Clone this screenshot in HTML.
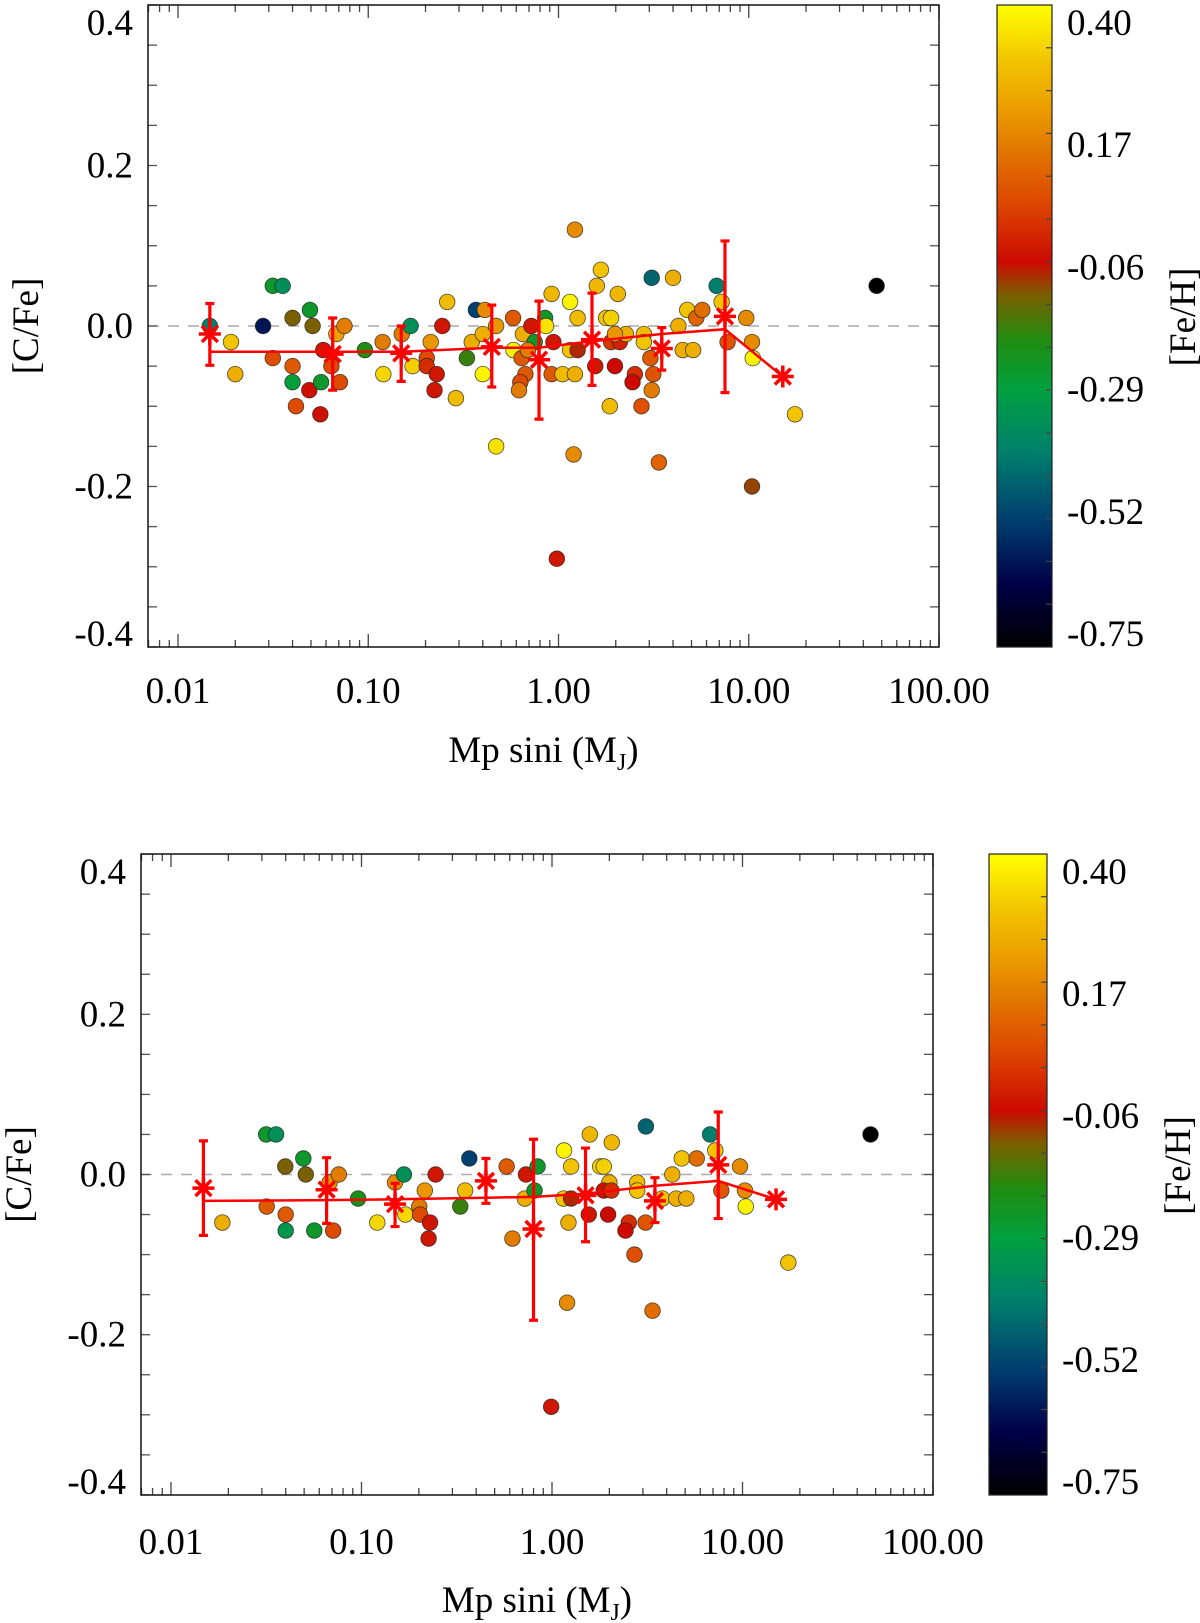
<!DOCTYPE html>
<html><head><meta charset="utf-8"><style>
html,body{margin:0;padding:0;background:#fff}
svg{display:block}
text{font-family:"Liberation Serif",serif;fill:#000}
</style></head><body>
<svg id="fig" width="1200" height="1623" viewBox="0 0 1200 1623" xmlns="http://www.w3.org/2000/svg">
<defs>
<linearGradient id="cbar" x1="0" y1="1" x2="0" y2="0"></linearGradient>
</defs>
</svg>
<script>
// ---- color scale ----
const cbLabels = ["0.40","0.17","-0.06","-0.29","-0.52","-0.75"];
const cmapVals = [-0.75,-0.64,-0.52,-0.40,-0.29,-0.20,-0.12,-0.06,0.05,0.15,0.22,0.30,0.40];
const cmapCols = ["#000000","#000046","#004070","#00806c","#00a040","#208c10","#7a6000","#cc0a00","#dd4a00","#e27c00","#eca000","#f2c400","#ffff00"];
// ---- top panel data ----
const topMass = [0.0147,0.019,0.020,0.0315,0.0355,0.028,0.0315,0.040,0.040,0.040,0.0417,0.0494,0.051,0.049,0.0565,0.056,0.058,0.064,0.068,0.075,0.071,0.096,0.119,0.120,0.15,0.167,0.171,0.203,0.203,0.213,0.229,0.223,0.245,0.26,0.289,0.33,0.35,0.368,0.41,0.40,0.40,0.47,0.577,0.58,0.65,0.64,0.67,0.63,0.62,0.72,0.75,0.47,
1.22,1.67,1.59,3.09,4.0,6.78,0.92,1.15,2.05,7.2,0.85,1.26,1.78,1.89,4.75,5.3,5.7,9.7,0.86,0.94,0.69,0.92,1.05,1.22,1.15,1.26,1.56,1.98,1.89,2.1,2.26,1.98,2.81,2.81,2.52,2.45,3.15,3.04,3.09,2.73,1.86,4.5,5.1,4.27,7.74,10.4,10.5,17.5,47,1.2,3.37,10.4,0.98];
const topCFe = [0.00,-0.02,-0.06,0.05,0.05,0.00,-0.04,0.01,-0.05,-0.07,-0.10,0.02,0.00,-0.08,-0.07,-0.11,-0.03,-0.05,-0.01,0.00,-0.07,-0.03,-0.02,-0.06,-0.01,0.00,-0.05,-0.04,-0.05,-0.02,-0.06,-0.08,0.00,0.03,-0.09,-0.04,-0.02,0.02,0.02,-0.06,-0.01,0.00,0.01,-0.03,-0.01,-0.04,-0.06,-0.07,-0.08,0.00,-0.02,-0.15,
0.12,0.07,0.05,0.06,0.06,0.05,0.04,0.03,0.04,0.03,0.01,0.01,0.01,0.01,0.02,0.01,0.02,0.01,0.00,-0.02,-0.03,-0.06,-0.06,-0.06,-0.03,-0.03,-0.05,-0.05,-0.02,-0.02,-0.01,-0.01,-0.01,-0.02,-0.06,-0.07,-0.06,-0.04,-0.08,-0.10,-0.10,-0.03,-0.03,0.00,-0.02,-0.02,-0.04,-0.11,0.05,-0.16,-0.17,-0.20,-0.29];
const topFeH = [-0.40,0.30,0.25,-0.25,-0.35,-0.60,0.05,-0.12,0.08,-0.28,0.05,-0.25,-0.12,-0.05,-0.25,-0.05,-0.04,0.05,0.22,0.15,0.05,-0.20,0.15,0.33,0.15,-0.35,0.32,0.05,0.00,0.20,-0.04,-0.04,-0.04,0.28,0.28,-0.18,0.25,-0.52,0.18,0.38,0.25,0.20,0.08,0.38,0.25,0.08,0.08,0.05,0.15,-0.04,-0.25,0.35,
0.18,0.30,0.27,-0.45,0.25,-0.40,0.27,0.38,0.27,0.30,-0.25,0.28,0.30,0.32,0.30,0.10,0.12,0.18,0.35,-0.04,0.15,0.08,0.28,0.25,0.30,-0.08,-0.04,-0.06,0.02,-0.02,0.25,0.20,0.28,0.30,0.00,-0.06,0.07,0.08,0.15,0.06,0.28,0.25,0.25,0.25,0.07,0.18,0.38,0.30,-0.75,0.18,0.10,-0.10,-0.04];
const topBinMass = [0.0147,0.065,0.149,0.446,0.79,1.50,3.49,7.5,15.1];
const topMedian = [-0.010,-0.035,-0.034,-0.026,-0.042,-0.017,-0.028,0.012,-0.063];
const topErrHi = [0.028,0.010,0.000,0.026,0.031,0.041,-0.002,0.106,null];
const topErrLo = [-0.049,-0.080,-0.069,-0.076,-0.116,-0.074,-0.055,-0.083,null];
const topMean = [-0.032,-0.032,-0.032,-0.027,-0.027,-0.019,-0.010,-0.004,-0.063];
// ---- bottom panel data ----
const botMass = [0.0186,0.0316,0.0356,0.0318,0.0398,0.040,0.040,0.0495,0.051,0.0565,0.071,0.068,0.076,0.096,0.121,0.15,0.167,0.17,0.201,0.203,0.215,0.229,0.225,0.245,0.33,0.35,0.368,0.578,0.62,0.73,0.72,0.84,0.81,
1.156,1.58,2.06,3.11,6.76,47,1.26,1.79,1.87,4.8,5.75,7.2,9.7,4.28,2.0,2.8,2.8,1.87,2.05,1.15,1.26,3.79,4.49,5.07,7.74,10.3,10.4,1.22,1.56,1.97,2.53,2.43,3.1,2.71,17.4,1.2,3.37,0.99];
const botCFe = [-0.06,0.05,0.05,-0.04,0.01,-0.05,-0.07,0.02,0.00,-0.07,-0.07,-0.01,0.00,-0.03,-0.06,-0.01,0.00,-0.05,-0.04,-0.05,-0.02,-0.06,-0.08,0.00,-0.04,-0.02,0.02,0.01,-0.08,0.00,-0.03,0.01,-0.02,
0.03,0.05,0.04,0.06,0.05,0.05,0.01,0.01,0.01,0.02,0.02,0.03,0.01,0.00,-0.01,-0.01,-0.02,-0.02,-0.02,-0.03,-0.03,-0.03,-0.03,-0.03,-0.02,-0.02,-0.04,-0.06,-0.05,-0.05,-0.06,-0.07,-0.06,-0.10,-0.11,-0.16,-0.17,-0.29];
const botFeH = [0.25,-0.25,-0.35,0.08,-0.12,0.08,-0.32,-0.25,-0.12,-0.25,0.05,0.20,0.15,-0.22,0.33,0.18,-0.35,0.33,0.15,0.05,0.20,-0.04,-0.04,-0.04,-0.18,0.28,-0.52,0.08,0.15,-0.04,0.25,-0.25,-0.25,
0.38,0.27,0.27,-0.45,-0.40,-0.75,0.30,0.32,0.32,0.30,0.12,0.30,0.18,0.25,0.25,0.28,0.30,-0.05,0.00,0.30,-0.08,0.30,0.25,0.25,0.07,0.18,0.38,0.25,-0.04,-0.06,0.00,-0.06,0.07,0.06,0.30,0.18,0.12,-0.04];
const botBinMass = [0.0148,0.0656,0.15,0.45,0.80,1.50,3.47,7.46,15.0];
const botMedian = [-0.017,-0.019,-0.037,-0.008,-0.068,-0.026,-0.033,0.012,-0.031];
const botErrHi = [0.042,0.021,-0.011,0.020,0.044,0.033,-0.004,0.078,null];
const botErrLo = [-0.076,-0.061,-0.065,-0.036,-0.182,-0.084,-0.060,-0.055,null];
const botMean = [-0.033,-0.032,-0.031,-0.029,-0.028,-0.024,-0.014,-0.008,-0.031];
const yTickVals = [-0.4,-0.2,0.0,0.2,0.4];
const yTickLabels = ["-0.4","-0.2","0.0","0.2","0.4"];
const xTickVals = [0.01,0.1,1,10,100];
const xTickLabels = ["0.01","0.10","1.00","10.00","100.00"];

const NS="http://www.w3.org/2000/svg";
const svg=document.getElementById('fig');
function mk(tag,attrs,parent){const e=document.createElementNS(NS,tag);for(const k in attrs)e.setAttribute(k,attrs[k]);(parent||svg).appendChild(e);return e;}
function hex2rgb(h){return [parseInt(h.slice(1,3),16),parseInt(h.slice(3,5),16),parseInt(h.slice(5,7),16)];}
function cmap(v){
  if(v<=cmapVals[0])return cmapCols[0];
  for(let i=1;i<cmapVals.length;i++){
    if(v<=cmapVals[i]){const t=(v-cmapVals[i-1])/(cmapVals[i]-cmapVals[i-1]);
      const a=hex2rgb(cmapCols[i-1]),b=hex2rgb(cmapCols[i]);
      return 'rgb('+a.map((c,j)=>Math.round(c+(b[j]-c)*t)).join(',')+')';}
  }
  return cmapCols[cmapCols.length-1];
}
const grad=document.getElementById('cbar');
cmapVals.forEach((v,i)=>{mk('stop',{offset:((v+0.75)/1.15).toFixed(4),'stop-color':cmapCols[i]},grad);});

function panel(P){
  const g=mk('g',{});
  
  
  const sx=m=>P.x0+(Math.log10(m)+2)*P.dec;
  const sy=v=>P.yc-v*P.k;
  const L=P.left,R=P.right,T=P.top,B=P.bottom;
  const z=mk('line',{x1:L,x2:R,y1:sy(0),y2:sy(0),stroke:'#aaa','stroke-width':1.5,'stroke-dasharray':'11 9'},g);
  
  
  for(let v=-0.4;v<=0.4001;v+=0.05){
    const y=sy(v);
    mk('line',{x1:L,x2:L+9,y1:y,y2:y,stroke:'#555','stroke-width':1.3},g);
    mk('line',{x1:R-9,x2:R,y1:y,y2:y,stroke:'#555','stroke-width':1.3},g);
  }
  for(let d=-3;d<=2;d++){
    for(let m=1;m<=9;m++){
      const val=m*Math.pow(10,d);const x=sx(val);
      if(x<L-0.5||x>R+0.5)continue;
      const len=m===1?13:7;
      mk('line',{x1:x,x2:x,y1:B,y2:B-len,stroke:'#444','stroke-width':1.3},g);
      mk('line',{x1:x,x2:x,y1:T,y2:T+len,stroke:'#444','stroke-width':1.3},g);
    }
  }
  const box=mk('rect',{x:L,y:T,width:R-L,height:B-T,fill:'none',stroke:'#111','stroke-width':1.5},g);
  
  
  yTickVals.forEach((v,i)=>{
    let y=sy(v);
    if(i===yTickVals.length-1)y=T+18; if(i===0)y=B-13;
    const t=mk('text',{x:L-15,y:y+12,'font-size':37,'text-anchor':'end'},g);
    t.textContent=yTickLabels[i];
    
    
  });
  xTickVals.forEach((v,i)=>{
    const t=mk('text',{x:sx(v),y:P.xlabY+12,'font-size':37,'text-anchor':'middle'},g);
    t.textContent=xTickLabels[i];
    
    
  });
  const xt=mk('text',{x:(L+R)/2,y:P.xtitleY+12,'font-size':37,'text-anchor':'middle'},g);
  xt.innerHTML='Mp sini (M<tspan font-size="24" dy="8">J</tspan><tspan dy="-8">)</tspan>';
  
  
  const yt=mk('text',{x:0,y:0,'font-size':37,'text-anchor':'middle',transform:`translate(${L-110},${(T+B)/2}) rotate(-90)`},g);
  yt.textContent='[C/Fe]';
  
  
  P.mass.forEach((m,i)=>{
    const c=mk('circle',{cx:sx(m),cy:sy(P.cfe[i]),r:7.8,fill:cmap(P.feh[i]),stroke:'#222','stroke-width':0.8,'stroke-opacity':0.8},g);
    
    
  });
  const pts=P.binMass.map((m,i)=>sx(m).toFixed(1)+','+sy(P.mean[i]).toFixed(1)).join(' ');
  const pl=mk('polyline',{points:pts,fill:'none',stroke:'#ff0000','stroke-width':2.5},g);
  
  
  P.binMass.forEach((m,i)=>{
    const x=sx(m);
    if(P.hi[i]!==null){
      const e=mk('path',{d:`M${x},${sy(P.hi[i])}V${sy(P.lo[i])}M${x-4.5},${sy(P.hi[i])}H${x+4.5}M${x-4.5},${sy(P.lo[i])}H${x+4.5}`,stroke:'#ff0000','stroke-width':3.2,fill:'none'},g);
      
      
    }
    const y=sy(P.med[i]),r=11,d=r*0.72;
    const a=mk('path',{d:`M${x-r},${y}H${x+r}M${x},${y-r}V${y+r}M${x-d},${y-d}L${x+d},${y+d}M${x-d},${y+d}L${x+d},${y-d}`,stroke:'#ff0000','stroke-width':3.5,fill:'none'},g);
    
    
  });
  const cb=mk('rect',{x:P.cbL,y:T,width:P.cbR-P.cbL,height:B-T,fill:'url(#cbar)',stroke:'#222','stroke-width':1.2},g);
  
  
  for(let k=1;k<15;k++){const y=T+(B-T)*k/15;mk('line',{x1:P.cbR-6,x2:P.cbR,y1:y,y2:y,stroke:'#444','stroke-width':1.2},g);}
  cbLabels.forEach((s,i)=>{
    const y=T+17+i*(B-T-31)/5;
    const t=mk('text',{x:P.cbR+15,y:y+13,'font-size':37},g);
    t.textContent=s;
    
    
  });
  const ct=mk('text',{x:0,y:0,'font-size':37,'text-anchor':'middle',transform:`translate(${P.cbR+143},${(T+B)/2-9}) rotate(-90)`},g);
  ct.textContent='[Fe/H]';
  
  
}
panel({name:'top-panel',x0:178,dec:190.25,yc:326,k:802.5,left:148,right:939,top:5,bottom:647,cbL:997,cbR:1052,xlabY:691,xtitleY:750,
  mass:topMass,cfe:topCFe,feh:topFeH,binMass:topBinMass,med:topMedian,hi:topErrHi,lo:topErrLo,mean:topMean});
panel({name:'bottom-panel',x0:171,dec:190.5,yc:1174.5,k:801,left:141,right:933,top:854,bottom:1495,cbL:989,cbR:1047,xlabY:1542,xtitleY:1600,
  mass:botMass,cfe:botCFe,feh:botFeH,binMass:botBinMass,med:botMedian,hi:botErrHi,lo:botErrLo,mean:botMean});
</script>
</body></html>
